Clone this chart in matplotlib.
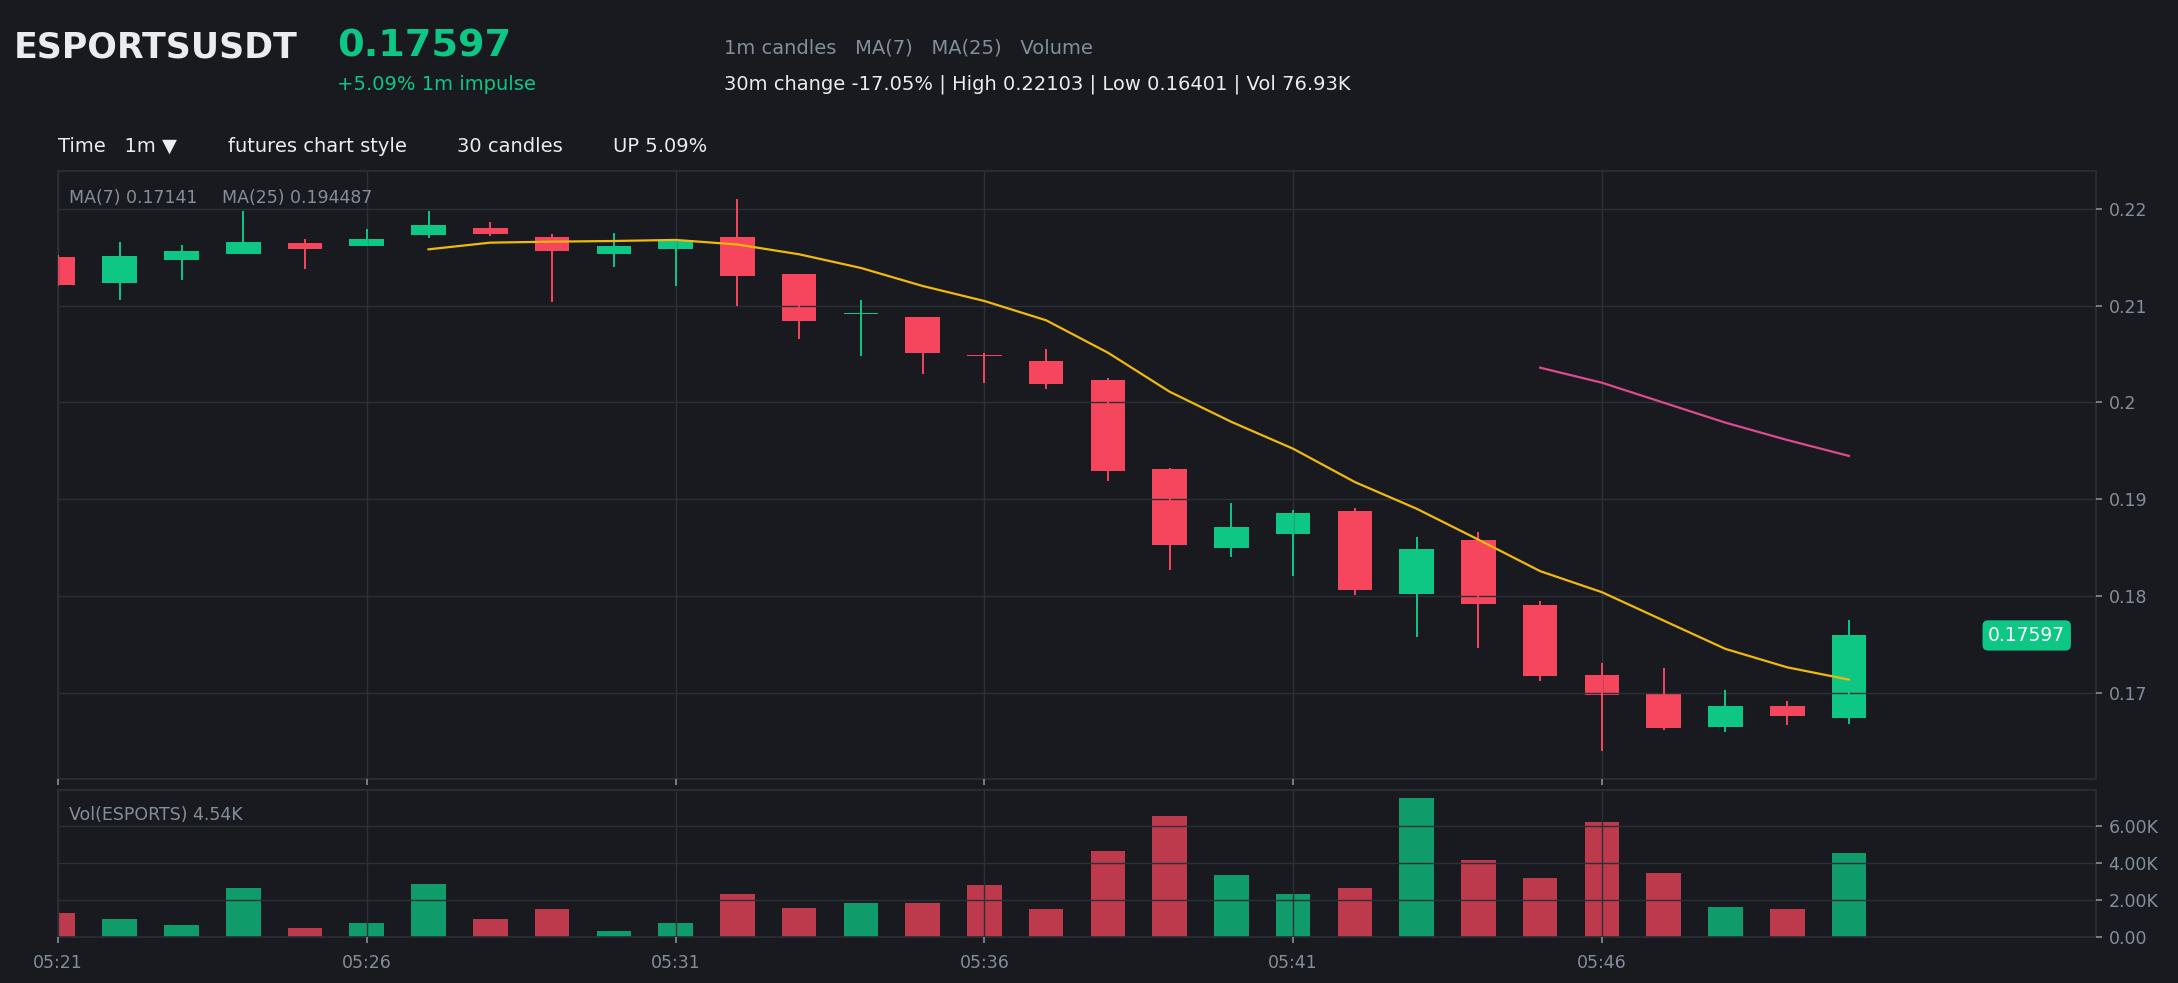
import numpy as np
import matplotlib
matplotlib.use("Agg")
import matplotlib.pyplot as plt
import matplotlib.transforms as mtransforms

# ---- data ----
times = ['05:21', '05:22', '05:23', '05:24', '05:25', '05:26', '05:27', '05:28', '05:29', '05:30',
         '05:31', '05:32', '05:33', '05:34', '05:35', '05:36', '05:37', '05:38', '05:39', '05:40',
         '05:41', '05:42', '05:43', '05:44', '05:45', '05:46', '05:47', '05:48', '05:49', '05:50']
opens = [0.21498, 0.21233, 0.21470, 0.21529, 0.21642, 0.21615, 0.21725, 0.21797, 0.21704, 0.21529,
         0.21584, 0.21704, 0.21322, 0.20908, 0.20879, 0.20481, 0.20424, 0.20228, 0.19317, 0.18504,
         0.18645, 0.18883, 0.18029, 0.18583, 0.17912, 0.17189, 0.16993, 0.16656, 0.16869, 0.16745]
highs = [0.21520, 0.21653, 0.21622, 0.21972, 0.21684, 0.21787, 0.21972, 0.21862, 0.21735, 0.21745,
         0.21690, 0.22103, 0.21330, 0.21054, 0.20885, 0.20514, 0.20548, 0.20256, 0.19324, 0.18966,
         0.18893, 0.18910, 0.18614, 0.18666, 0.17954, 0.17313, 0.17262, 0.17038, 0.16921, 0.17757]
lows = [0.21205, 0.21057, 0.21260, 0.21529, 0.21374, 0.21615, 0.21697, 0.21714, 0.21037, 0.21395,
        0.21202, 0.20996, 0.20652, 0.20480, 0.20290, 0.20197, 0.20142, 0.19193, 0.18277, 0.18411,
        0.18205, 0.18009, 0.17582, 0.17468, 0.17127, 0.16401, 0.16625, 0.16604, 0.16676, 0.16683]
closes = [0.21214, 0.21508, 0.21560, 0.21653, 0.21584, 0.21684, 0.21828, 0.21735, 0.21563, 0.21611,
          0.21680, 0.21305, 0.20837, 0.20912, 0.20510, 0.20476, 0.20187, 0.19296, 0.18532, 0.18718,
          0.18862, 0.18067, 0.18491, 0.17926, 0.17182, 0.16983, 0.16642, 0.16869, 0.16769, 0.17597]
volumes = [1294, 975, 656, 2624, 497, 780, 2890, 975, 1507, 337,
           780, 2305, 1578, 1826, 1826, 2837, 1507, 4663, 6544, 3368,
           2305, 2642, 7518, 4184, 3209, 6241, 3475, 1614, 1507, 4540]
ma7 = [np.nan] * 6 + [0.21580, 0.21649, 0.21659, 0.21666, 0.21677, 0.21630, 0.21529, 0.21388,
                      0.21202, 0.21047, 0.20848, 0.20514, 0.20111, 0.19800, 0.19523, 0.19179,
                      0.18904, 0.18585, 0.18260, 0.18043, 0.17750, 0.17458, 0.17268, 0.17141]
ma25 = [np.nan] * 24 + [0.20359, 0.20204, 0.19998, 0.19792, 0.19613, 0.194487]
xtick_labels = ['05:21', '05:26', '05:31', '05:36', '05:41', '05:46']
price_ticks = [0.17, 0.18, 0.19, 0.20, 0.21, 0.22]
price_tick_labels = ['0.17', '0.18', '0.19', '0.2', '0.21', '0.22']
vol_ticks = [0, 2000, 4000, 6000]
vol_tick_labels = ['0.00', '2.00K', '4.00K', '6.00K']

BG = '#181a20'
GRID = '#2b2f36'
UP = '#0ec784'
DOWN = '#f6465d'
GREY = '#848e9c'
WHITE = '#eaecef'

fig = plt.figure(figsize=(21.78, 9.83), dpi=100, facecolor=BG)
ax = fig.add_axes([0.02663, 0.20753, 0.93572, 0.61851], facecolor=BG)
axv = fig.add_axes([0.02663, 0.0468, 0.93572, 0.14954], facecolor=BG, sharex=ax)

x = np.arange(len(times))
o = np.array(opens); c = np.array(closes)
cols = [UP if cc >= oo else DOWN for oo, cc in zip(o, c)]
w = 0.56

# bodies under the grid, wicks over it
body_bottom = np.minimum(o, c)
body_h = np.maximum(np.abs(c - o), 0.00018)
ax.bar(x, body_h, bottom=body_bottom, width=w, color=cols, zorder=2, linewidth=0)
ax.vlines(x, lows, highs, colors=cols, linewidth=1.4, zorder=3)
ax.plot(x, ma7, color='#f0b90b', linewidth=1.6, zorder=5)
ax.plot(x, ma25, color='#dc4a8f', linewidth=1.6, zorder=5)

axv.bar(x, volumes, width=w, color=cols, alpha=0.75, linewidth=0, zorder=2)

for a in (ax, axv):
    for s in a.spines.values():
        s.set_color(GRID)
        s.set_linewidth(1.2)
    a.set_axisbelow(False)
    a.grid(True, color=GRID, linewidth=1.0)
    a.yaxis.tick_right()
    a.tick_params(colors=GREY, labelsize=12.5, length=4, width=1.2, pad=5)

ax.set_xlim(0, 33)
ax.set_xticks(x[::5])
ax.set_ylim(0.16116, 0.22388)
ax.set_yticks(price_ticks)
ax.set_yticklabels(price_tick_labels)
ax.tick_params(axis='x', labelbottom=False)

axv.set_ylim(0, max(volumes) * 1.057)
axv.set_yticks(vol_ticks)
axv.set_yticklabels(vol_tick_labels)
axv.set_xticklabels(xtick_labels)
axv.tick_params(axis='x', pad=8)

ax.text(0.0055, 0.955, 'MA(7) 0.17141', transform=ax.transAxes, color=GREY,
        fontsize=12.5, va='center', ha='left', zorder=6)
ax.text(0.0806, 0.955, 'MA(25) 0.194487', transform=ax.transAxes, color=GREY,
        fontsize=12.5, va='center', ha='left', zorder=6)
axv.text(0.0055, 0.83, 'Vol(ESPORTS) 4.54K', transform=axv.transAxes, color=GREY,
         fontsize=12.5, va='center', ha='left', zorder=6)

trans = mtransforms.blended_transform_factory(ax.transAxes, ax.transData)
ax.text(0.966, closes[-1], f'{closes[-1]:.5f}', transform=trans, color='white',
        fontsize=13.5, ha='center', va='center', zorder=6,
        bbox=dict(boxstyle='round,pad=0.3,rounding_size=0.3', fc=UP, ec='none'))

# header
fig.text(0.0064, 0.9512, 'ESPORTSUSDT', color=WHITE, fontsize=25, fontweight='bold', va='center')
fig.text(0.1547, 0.9522, '0.17597', color=UP, fontsize=27.5, fontweight='bold', va='center')
fig.text(0.1547, 0.9141, '+5.09% 1m impulse', color=UP, fontsize=14, va='center')
fig.text(0.3324, 0.9512, '1m candles   MA(7)   MA(25)   Volume', color=GREY, fontsize=14, va='center')
fig.text(0.3324, 0.9141, '30m change -17.05% | High 0.22103 | Low 0.16401 | Vol 76.93K',
         color=WHITE, fontsize=14, va='center')

# toolbar
fig.text(0.0266, 0.8511, 'Time   1m \u25bc', color=WHITE, fontsize=14, va='center')
fig.text(0.1047, 0.8511, 'futures chart style', color=WHITE, fontsize=14, va='center')
fig.text(0.2098, 0.8511, '30 candles', color=WHITE, fontsize=14, va='center')
fig.text(0.2815, 0.8511, 'UP 5.09%', color=WHITE, fontsize=14, va='center')

fig.savefig('out.png', dpi=100, facecolor=BG)
